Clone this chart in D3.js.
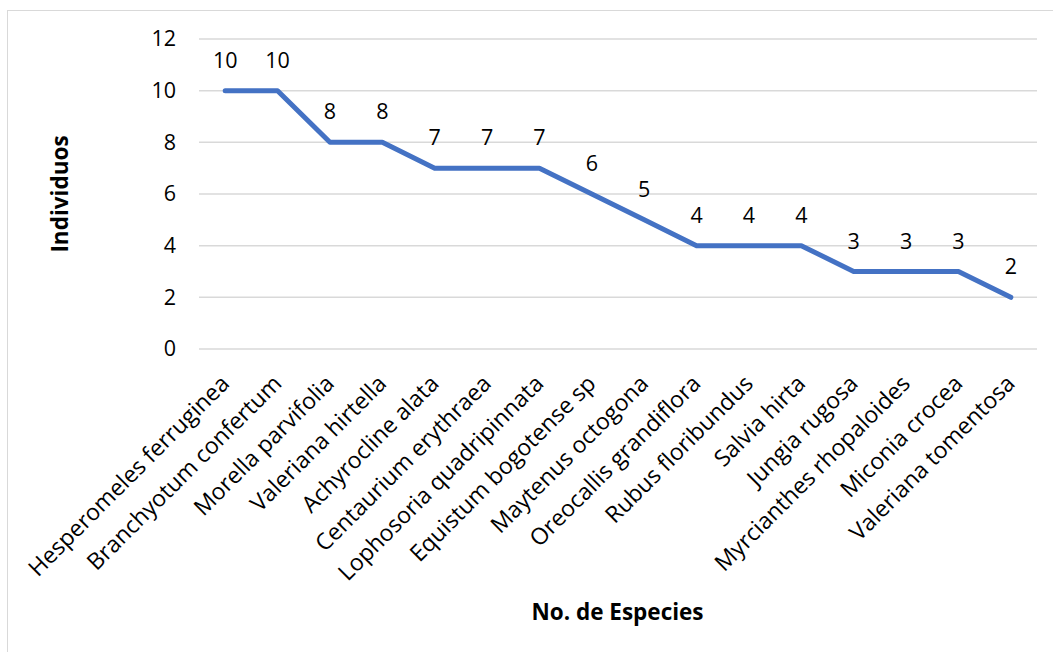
<!DOCTYPE html>
<html>
<head>
<meta charset="utf-8">
<script src="https://cdn.jsdelivr.net/npm/d3@7"></script>
<style>
  html, body { margin: 0; padding: 0; background: #fff; }
  svg { display: block; }
  text { font-family: "Open Sans", sans-serif; fill: #000; }
</style>
</head>
<body>
<svg id="chart" width="1053" height="652"></svg>
<script>
// Species and number of individuals recorded for each
const species = [
  "Hesperomeles ferruginea", "Branchyotum confertum", "Morella parvifolia",
  "Valeriana hirtella", "Achyrocline alata", "Centaurium erythraea",
  "Lophosoria quadripinnata", "Equistum bogotense sp", "Maytenus octogona",
  "Oreocallis grandiflora", "Rubus floribundus", "Salvia hirta",
  "Jungia rugosa", "Myrcianthes rhopaloides", "Miconia crocea",
  "Valeriana tomentosa"
];
const individuals = [10, 10, 8, 8, 7, 7, 7, 6, 5, 4, 4, 4, 3, 3, 3, 2];
const yTicks = [0, 2, 4, 6, 8, 10, 12];
const yTitle = "Individuos";
const xTitle = "No. de Especies";

const svg = d3.select("#chart");
const W = 1053, H = 652;
const plot = { left: 199, right: 1037, top: 39, bottom: 349 };

svg.append("rect").attr("width", W).attr("height", H).attr("fill", "#fff");

// outer chart frame
svg.append("rect")
  .attr("x", 7.5).attr("y", 10.5)
  .attr("width", 1100).attr("height", 700)
  .attr("fill", "none").attr("stroke", "#d9d9d9").attr("stroke-width", 1);

const x = d3.scalePoint().domain(species).range([plot.left, plot.right]).padding(0.5);
const y = d3.scaleLinear().domain([0, 12]).range([plot.bottom, plot.top]);

// horizontal gridlines
svg.append("g").selectAll("line").data(yTicks).join("line")
  .attr("x1", plot.left).attr("x2", plot.right)
  .attr("y1", d => y(d)).attr("y2", d => y(d))
  .attr("stroke", "#d9d9d9").attr("stroke-width", 1.5);

// y axis tick labels
const yAxis = d3.axisLeft(y).tickValues(yTicks).tickSize(0).tickPadding(0);
const gy = svg.append("g").attr("transform", "translate(176,0)").call(yAxis);
gy.select(".domain").remove();
gy.selectAll("text").style("font-size", "21.5px").style("font-family", "Open Sans, sans-serif").attr("fill", "#000");

// x axis category labels, rotated
const xAxis = d3.axisBottom(x).tickSize(0).tickPadding(0);
const gx = svg.append("g").call(xAxis);
gx.select(".domain").remove();
gx.selectAll(".tick text")
  .attr("y", 0).attr("dy", 0)
  .attr("text-anchor", "end")
  .attr("transform", "translate(5,385) rotate(-45)")
  .style("font-size", "23px").style("font-family", "Open Sans, sans-serif").attr("fill", "#000");

// series line
const line = d3.line().x((d, i) => x(species[i])).y(d => y(d));
svg.append("path")
  .datum(individuals)
  .attr("d", line)
  .attr("fill", "none")
  .attr("stroke", "#4472C4")
  .attr("stroke-width", 5)
  .attr("stroke-linejoin", "round")
  .attr("stroke-linecap", "round");

// value labels above each point
svg.append("g").selectAll("text").data(individuals).join("text")
  .attr("x", (d, i) => x(species[i]))
  .attr("y", d => y(d) - 23)
  .attr("text-anchor", "middle")
  .style("font-size", "21.5px")
  .text(d => d);

// axis titles
svg.append("text")
  .attr("transform", "translate(68,194) rotate(-90)")
  .attr("text-anchor", "middle")
  .style("font-size", "22.5px").style("font-weight", "bold")
  .text(yTitle);

svg.append("text")
  .attr("x", 617.5).attr("y", 620)
  .attr("text-anchor", "middle")
  .style("font-size", "22.5px").style("font-weight", "bold")
  .text(xTitle);
</script>
</body>
</html>
